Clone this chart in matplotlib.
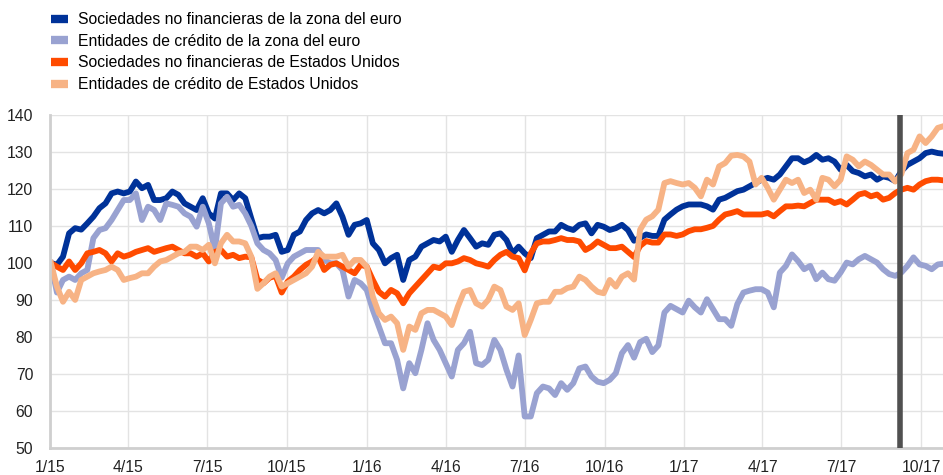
import matplotlib
matplotlib.use("Agg")
import matplotlib.pyplot as plt
import matplotlib.dates as mdates
import pandas as pd

plt.rcParams["font.family"] = ["Liberation Sans", "DejaVu Sans"]

# weekly observations (Fridays), index 2 January 2015 = 100
dates = pd.date_range("2015-01-02", "2017-10-27", freq="W-FRI")

ea_nfc = [
    100, 99.5, 101.7, 108, 109.4, 109, 110.7, 112.5, 114.8, 116.1,
    118.8, 119.3, 118.8, 119.3, 122, 120.2, 121.1, 117, 117, 117.5,
    119.3, 118.4, 116.1, 115.2, 114.3, 117.5, 113.4, 112, 118.8, 118.8,
    117, 118.8, 117.5, 112, 106.7, 107.1, 107.1, 107.6, 103, 103.5,
    107.6, 108.5, 111.6, 113.4, 114.3, 113.4, 114.3, 116.1, 112.5, 107.6,
    110.3, 110.7, 111.6, 105.3, 103.5, 99.9, 101.3, 102.2, 95.4, 100.8,
    101.7, 104.4, 105.3, 106.2, 105.8, 107.1, 103, 106.2, 108.9, 106.7,
    104.4, 105.3, 104.9, 107.6, 108, 106.2, 102.6, 104.4, 102.6, 101.3,
    106.7, 107.6, 108.5, 108.5, 110.3, 109.4, 108.9, 110.3, 110.7, 108,
    110.3, 109.8, 108.9, 109.4, 110.3, 108.9, 106, 106.8, 107.7, 107.3,
    107.3, 111.7, 113.1, 114.4, 115.3, 115.8, 115.8, 115.8, 115.3, 114.4,
    117.1, 117.6, 118.5, 119.4, 119.8, 120.7, 121.6, 122.5, 123, 122.5,
    123.9, 126.1, 128.3, 128.3, 127.2, 127.9, 129.2, 127.9, 128.3, 127.4,
    125.2, 126.5, 124.8, 124.3, 123.4, 123.9, 122.5, 123.4, 123, 122.1,
    124.8, 126.5, 127.4, 128.3, 129.7, 130.1, 129.7, 129.5,
]

ea_banks = [
    100, 92, 95.4, 96.3, 95.4, 97.2, 98.1, 106.7, 108.9, 109.4,
    111.6, 114.3, 117, 117, 118.8, 111.6, 115.2, 114.3, 111.6, 116.1,
    115.7, 115.2, 113.4, 112.5, 109.8, 115.2, 110.7, 103.5, 116.1, 117.9,
    115.2, 115.7, 113.4, 110, 105.3, 103.5, 102.6, 100.8, 96, 99.9,
    101.7, 102.6, 103.5, 103.5, 103.5, 100.8, 99.9, 99.9, 98.1, 90.9,
    95.4, 94.5, 92.7, 87.3, 82.8, 78.3, 78.3, 73.8, 66.1, 72.9,
    70.2, 76.5, 83.7, 79.2, 76.5, 72.9, 69.3, 76.5, 78.3, 81.4,
    72.9, 72.4, 73.8, 79.2, 76.5, 71.1, 66.6, 75, 58.5, 58.5,
    64.8, 66.6, 66.1, 64.3, 67.5, 65.7, 67.5, 71.5, 72, 69.3,
    67.9, 67.5, 68.4, 70.2, 75.6, 77.8, 74.4, 78.6, 79.5, 75.9,
    77.7, 86.6, 88.4, 87.5, 86.6, 89.8, 88, 86.6, 90.2, 87.5,
    84.8, 84.8, 83, 88.9, 92, 92.5, 92.9, 92.9, 92, 88,
    97.4, 99.2, 102.3, 100.5, 98.3, 99.2, 95.6, 97.4, 95.6, 95.2,
    97.4, 100.1, 99.6, 101, 101.9, 101, 100.1, 98.3, 97, 96.5,
    97.4, 99.2, 101.5, 99.6, 99.2, 98.3, 99.6, 99.8,
]

us_nfc = [
    100, 99, 98.1, 100.4, 98.1, 99.9, 102.6, 103, 103.5, 102.6,
    100.4, 102.6, 101.7, 102.2, 103, 103.5, 104, 103, 103.5, 104,
    104.4, 103.5, 102.6, 102.6, 101.7, 102.6, 100.4, 103, 103.5, 101.7,
    102.2, 101.3, 101.7, 101.5, 95.5, 94.5, 96, 96.5, 92, 95,
    96.3, 98.1, 99.5, 100.4, 101.7, 98.1, 99.5, 99.9, 99, 98.1,
    97.2, 99.5, 99, 95.4, 92.2, 90.9, 92.7, 91.8, 89.1, 91.8,
    93.6, 95.4, 97.2, 99, 98.6, 99.9, 99.9, 100.4, 101.3, 100.8,
    99.9, 99.5, 99, 100.8, 102.2, 103, 101.7, 101.3, 98, 102.6,
    105.3, 105.8, 105.8, 106.2, 106.7, 106.2, 106.2, 105.8, 103.5, 104.4,
    105.8, 104.9, 104, 104, 104.4, 103, 101.6, 104.6, 105.9, 105.5,
    105.5, 107.7, 107.7, 107.3, 107.7, 108.6, 109.1, 109.1, 109.5, 110,
    111.7, 113.1, 113.5, 114, 113.1, 113.1, 113.1, 113.1, 113.5, 112.6,
    114, 115.3, 115.3, 115.5, 115.3, 116.2, 117.1, 117.1, 117.1, 116.2,
    116.7, 115.8, 117.1, 118.5, 118.9, 118, 118.5, 117.1, 117.6, 118.9,
    119.8, 120.3, 119.8, 121.2, 122.1, 122.5, 122.5, 122.3,
]

us_banks = [
    100, 93.6, 89.5, 92.2, 90, 95.4, 96.3, 97.2, 97.7, 98.1,
    99, 98.1, 95.4, 95.9, 96.3, 97.2, 97.2, 99, 100.4, 100.8,
    101.7, 102.6, 103, 104.4, 104.4, 103.5, 104.9, 99.9, 105.3, 107.6,
    105.8, 105.8, 105.3, 101.7, 93, 94.5, 96.3, 97.2, 93.6, 94.5,
    95.4, 96.3, 97.2, 99, 103, 101.7, 101.7, 101.7, 102.2, 99,
    100.8, 100.8, 99, 90.9, 86.4, 84.6, 85.5, 83.7, 76.5, 82.8,
    81.9, 86.4, 87.3, 87.3, 86.4, 85.5, 83.2, 88.2, 92.2, 92.7,
    89.1, 88.2, 90, 93.6, 92.7, 88.2, 87.3, 89.1, 80.5, 84.6,
    89.1, 89.5, 89.5, 92.2, 92.2, 93.2, 93.6, 96.3, 95.4, 93.6,
    92.2, 91.8, 95.4, 93.6, 96.3, 97.2, 95.5, 109, 111.7, 112.6,
    114.4, 121.6, 122.1, 121.6, 121.2, 121.6, 120.3, 118, 122.5, 121.2,
    126.1, 127, 129, 129.2, 128.8, 127.4, 121.2, 123, 120.3, 117.1,
    119.8, 122.5, 121.6, 122.5, 118.9, 119.8, 117.1, 123, 122.5, 120.7,
    122.5, 128.8, 127.9, 126.1, 127.4, 126.5, 125.2, 123.9, 123.9, 122,
    124, 129.7, 130.6, 134.2, 132.4, 134.2, 136.5, 137,
]

labels = [
    "Sociedades no financieras de la zona del euro",
    "Entidades de crédito de la zona del euro",
    "Sociedades no financieras de Estados Unidos",
    "Entidades de crédito de Estados Unidos",
]
colors = ["#003299", "#99A2D1", "#FF4B00", "#F7B385"]
event_date = pd.Timestamp("2017-09-07")

fig = plt.figure(figsize=(9.43, 4.75), dpi=100)
ax = fig.add_axes([0.053, 0.057, 0.947, 0.701])

for series, lab, col in zip([ea_nfc, ea_banks, us_nfc, us_banks], labels, colors):
    ax.plot(dates, series, color=col, lw=4.2, label=lab, solid_joinstyle="round")

ax.axvline(event_date, color="#505050", lw=4, zorder=5)

ax.set_ylim(50, 140)
ax.set_yticks(range(50, 141, 10))
ax.set_xlim(pd.Timestamp("2015-01-01"), pd.Timestamp("2017-10-26"))
ax.xaxis.set_major_locator(mdates.MonthLocator(bymonth=[1, 4, 7, 10]))
ax.xaxis.set_major_formatter(
    matplotlib.ticker.FuncFormatter(
        lambda v, p: "%d/%s" % (mdates.num2date(v).month, mdates.num2date(v).strftime("%y"))
    )
)

ax.grid(True, color="#e3e3e3", lw=1)
ax.set_axisbelow(True)
ax.tick_params(length=0, labelsize=11.3, colors="#222222")
ax.tick_params(axis="x", pad=9)
ax.tick_params(axis="y", pad=12)
for s in ["top", "right"]:
    ax.spines[s].set_visible(False)
for s in ["left", "bottom"]:
    ax.spines[s].set_color("#cfcfcf")
    ax.spines[s].set_linewidth(2)

leg = ax.legend(loc="upper left", bbox_to_anchor=(0.044, 0.994), bbox_transform=fig.transFigure,
                frameon=False, fontsize=11.3, handlelength=1.08, handletextpad=0.64,
                labelspacing=0.42, borderaxespad=0.2)
for h in leg.get_lines():
    h.set_linewidth(6)
    h.set_solid_capstyle("butt")

fig.savefig("out.png", dpi=100)
